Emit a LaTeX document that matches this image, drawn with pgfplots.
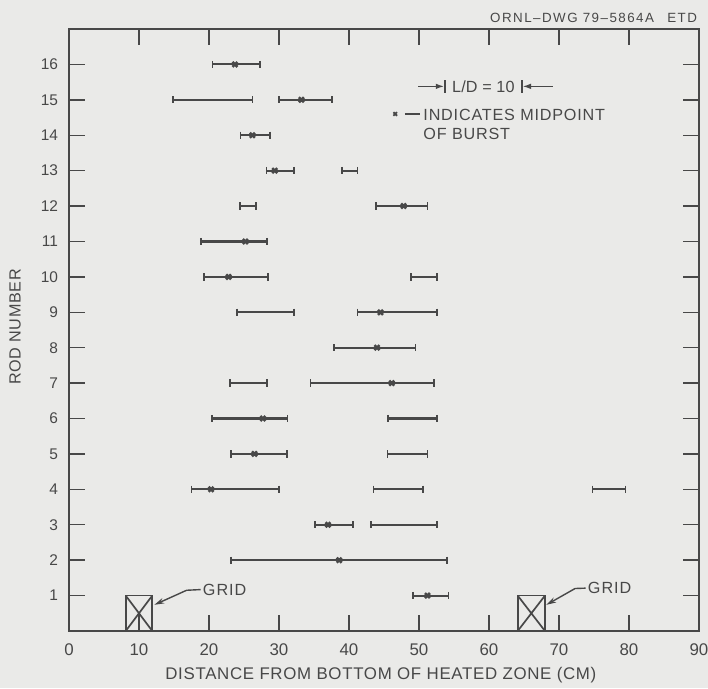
\documentclass[border=0pt]{standalone}
\usepackage{fontspec}
\setmainfont{Liberation Sans}
\usepackage{pgfplots}
\pgfplotsset{compat=1.18}
\usetikzlibrary{arrows.meta}
\definecolor{ink}{RGB}{72,72,72}
\definecolor{paper}{RGB}{234,234,232}

\begin{document}
\begin{tikzpicture}
\fill[paper] (0,0) rectangle (17.7cm,17.2cm);
\useasboundingbox (0,0) rectangle (17.7cm,17.2cm);

\node[anchor=east, ink, font=\fontsize{9.5}{10}\selectfont\addfontfeature{LetterSpace=11}]
  at (17.55cm,16.75cm) {ORNL--DWG 79--5864A\quad ETD};

\begin{axis}[
  at={(1.725cm,1.425cm)}, anchor=south west,
  scale only axis, width=15.75cm, height=15.05cm,
  xmin=0, xmax=90, ymin=0, ymax=17,
  xtick={0,10,...,90}, ytick={1,2,...,16},
  tick align=inside,
  major tick length=0.4cm,
  axis line style={ink, line width=1.2pt},
  tick style={ink, line width=1pt},
  /pgf/number format/assume math mode=true,
  xticklabel style={ink, font=\fontsize{12}{14}\selectfont, yshift=-0.2cm},
  yticklabel style={ink, font=\fontsize{11}{13}\selectfont, xshift=-0.15cm},
  xlabel={DISTANCE FROM BOTTOM OF HEATED ZONE (CM)},
  ylabel={ROD NUMBER},
  every axis x label/.style={at={(axis description cs:0.495,0)}, anchor=north, yshift=-0.78cm,
    ink, font=\fontsize{12}{14}\selectfont\addfontfeature{LetterSpace=4}},
  every axis y label/.style={at={(axis description cs:-0.0857,0.505)}, rotate=90, anchor=center,
    ink, font=\fontsize{11.5}{13}\selectfont\addfontfeature{LetterSpace=4}},
  unbounded coords=jump,
]
% extent of each burst region (cm), one segment per region
\addplot[ink, line width=1.5pt, mark=|, mark size=2.6pt, mark options={line width=1.2pt}] coordinates {
(20.5,16) (27.3,16) (nan,nan)
(14.9,15) (26.2,15) (nan,nan) (30.0,15) (37.6,15) (nan,nan)
(24.5,14) (28.7,14) (nan,nan)
(28.2,13) (32.1,13) (nan,nan) (39.0,13) (41.2,13) (nan,nan)
(24.4,12) (26.7,12) (nan,nan) (43.9,12) (51.2,12) (nan,nan)
(18.9,11) (28.3,11) (nan,nan)
(19.3,10) (28.4,10) (nan,nan) (48.9,10) (52.6,10) (nan,nan)
(24.0,9) (32.1,9) (nan,nan) (41.2,9) (52.6,9) (nan,nan)
(37.9,8) (49.5,8) (nan,nan)
(23.0,7) (28.3,7) (nan,nan) (34.5,7) (52.1,7) (nan,nan)
(20.4,6) (31.2,6) (nan,nan) (45.6,6) (52.6,6) (nan,nan)
(23.1,5) (31.1,5) (nan,nan) (45.5,5) (51.2,5) (nan,nan)
(17.5,4) (30.0,4) (nan,nan) (43.5,4) (50.6,4) (nan,nan) (74.8,4) (79.5,4) (nan,nan)
(35.1,3) (40.6,3) (nan,nan) (43.1,3) (52.6,3) (nan,nan)
(23.1,2) (54.0,2) (nan,nan)
(49.1,1) (54.2,1)
};
% midpoints of burst
\addplot[only marks, ink, mark=x, mark size=2.5pt, mark options={line width=1.8pt}] coordinates {
(23.7,16) (33.2,15) (26.2,14) (29.4,13) (47.8,12) (25.2,11) (22.8,10) (44.5,9)
(44.0,8) (46.1,7) (27.7,6) (26.5,5) (20.3,4) (37.0,3) (38.6,2) (51.2,1)
};

% grid spacers
\draw[ink, line width=1.2pt] (axis cs:8.1,0) rectangle (axis cs:11.9,1);
\draw[ink, line width=1.2pt] (axis cs:8.1,0) -- (axis cs:11.9,1) (axis cs:8.1,1) -- (axis cs:11.9,0);
\draw[ink, line width=1.2pt] (axis cs:64.1,0) rectangle (axis cs:68.0,1);
\draw[ink, line width=1.2pt] (axis cs:64.1,0) -- (axis cs:68.0,1) (axis cs:64.1,1) -- (axis cs:68.0,0);
\draw[ink, line width=1pt, {Stealth[length=7pt,width=4pt]}-] (axis cs:12.2,0.74) -- (axis cs:16.8,1.15) -- (axis cs:18.8,1.17);
\node[anchor=west, ink, inner sep=1pt, font=\fontsize{11.5}{13}\selectfont\addfontfeature{LetterSpace=6}] at (axis cs:18.9,1.17) {GRID};
\draw[ink, line width=1pt, {Stealth[length=7pt,width=4pt]}-] (axis cs:68.2,0.74) -- (axis cs:72.3,1.2) -- (axis cs:73.8,1.21);
\node[anchor=west, ink, inner sep=1pt, font=\fontsize{11.5}{13}\selectfont\addfontfeature{LetterSpace=6}] at (axis cs:73.9,1.21) {GRID};

% key
\draw[ink, line width=1pt, -{Latex[length=6pt,width=4pt]}] (axis cs:49.9,15.38) -- (axis cs:53.6,15.38);
\draw[ink, line width=1pt] (axis cs:53.7,15.2) -- (axis cs:53.7,15.56);
\draw[ink, line width=1pt] (axis cs:64.7,15.2) -- (axis cs:64.7,15.56);
\draw[ink, line width=1pt, -{Latex[length=6pt,width=4pt]}] (axis cs:69.1,15.38) -- (axis cs:64.8,15.38);
\node[ink, inner sep=0pt, font=\fontsize{11.5}{13}\selectfont\addfontfeature{LetterSpace=1}] at (axis cs:59.2,15.38) {L/D = 10};
\addplot[only marks, ink, mark=x, mark size=1.8pt, mark options={line width=1.3pt}] coordinates {(46.6,14.6)};
\draw[ink, line width=1pt] (axis cs:48.0,14.6) -- (axis cs:50.1,14.6);
\node[anchor=west, ink, inner sep=0pt, align=left, font=\fontsize{11.5}{13.5}\selectfont\addfontfeature{LetterSpace=5}]
  at (axis cs:50.6,14.3) {INDICATES MIDPOINT\\OF BURST};
\end{axis}
\end{tikzpicture}
\end{document}
